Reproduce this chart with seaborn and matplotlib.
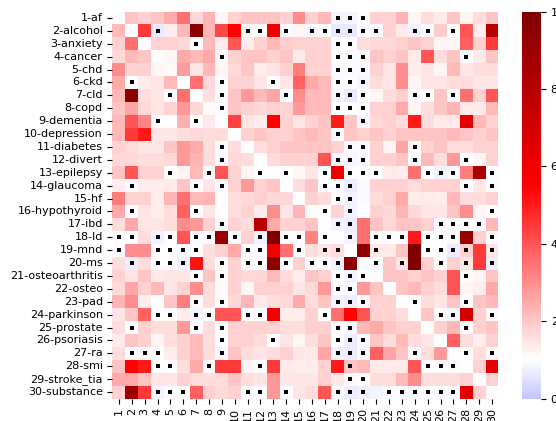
import numpy as np
import pandas as pd
import seaborn as sns
import matplotlib
matplotlib.use('Agg')
import matplotlib.pyplot as plt

conditions = ['1-af', '2-alcohol', '3-anxiety', '4-cancer', '5-chd', '6-ckd', '7-cld', '8-copd',
              '9-dementia', '10-depression', '11-diabetes', '12-divert', '13-epilepsy', '14-glaucoma',
              '15-hf', '16-hypothyroid', '17-ibd', '18-ld', '19-mnd', '20-ms', '21-osteoarthritis',
              '22-osteo', '23-pad', '24-parkinson', '25-prostate', '26-psoriasis', '27-ra', '28-smi',
              '29-stroke_tia', '30-substance']
col_labels = [str(i) for i in range(1, 31)]

# ratio values, one row per condition
ratios = [
    [1.0, 2.0, 1.8, 2.0, 2.5, 3.5, 1.7, 2.3, 1.2, 1.8, 2.0, 2.0, 2.0, 1.8, 3.0, 1.8, 2.2, 0.85, 0.85, 1.0, 1.8, 1.8, 2.3, 1.2, 1.6, 1.4, 2.0, 1.2, 1.6, 2.0],
    [2.2, 1.0, 4.5, 0.6, 1.3, 2.2, 9.5, 2.3, 4.2, 5.5, 1.0, 1.0, 6.0, 0.9, 1.2, 0.9, 1.0, 0.6, 0.6, 1.0, 1.0, 1.8, 1.4, 0.8, 0.9, 1.9, 1.0, 4.0, 1.3, 8.0],
    [1.8, 3.5, 1.0, 1.8, 1.8, 1.7, 1.0, 2.2, 1.3, 4.0, 1.3, 1.8, 2.2, 1.9, 1.8, 1.8, 1.8, 1.0, 1.0, 1.6, 1.7, 1.7, 1.8, 2.0, 1.8, 1.2, 1.2, 3.8, 1.8, 4.5],
    [1.7, 2.2, 2.0, 1.0, 1.2, 2.5, 2.2, 2.5, 0.9, 1.8, 2.0, 2.0, 1.8, 2.0, 1.4, 1.8, 1.8, 1.0, 0.9, 1.1, 2.0, 1.8, 2.0, 1.4, 4.0, 1.6, 2.0, 1.0, 1.4, 2.0],
    [3.0, 1.8, 1.8, 1.2, 1.1, 2.7, 1.5, 2.2, 1.2, 1.7, 2.0, 1.3, 1.5, 1.8, 3.3, 1.8, 1.8, 0.9, 0.9, 0.9, 1.8, 1.5, 3.0, 1.3, 1.5, 1.2, 2.2, 1.5, 1.6, 1.6],
    [2.5, 1.0, 1.3, 1.5, 2.2, 1.0, 3.5, 1.7, 1.0, 1.8, 1.8, 1.5, 1.0, 1.5, 3.8, 2.5, 2.2, 1.1, 0.95, 0.85, 1.6, 1.5, 3.0, 1.2, 1.5, 1.5, 1.6, 1.6, 1.5, 1.5],
    [2.2, 9.5, 1.6, 1.5, 1.0, 3.5, 1.0, 1.6, 1.0, 2.0, 2.8, 2.2, 2.6, 1.0, 3.0, 2.2, 2.2, 0.85, 0.65, 1.0, 1.2, 1.6, 1.8, 1.0, 1.0, 2.0, 1.0, 3.5, 1.8, 4.0],
    [2.0, 2.6, 1.7, 1.5, 1.8, 2.8, 1.7, 1.1, 0.9, 2.0, 1.8, 1.7, 1.8, 1.8, 2.8, 2.2, 2.2, 1.0, 1.0, 0.9, 1.8, 1.8, 2.5, 1.2, 1.6, 2.0, 2.3, 1.4, 1.4, 2.2],
    [2.2, 4.0, 3.2, 1.0, 1.05, 2.4, 1.0, 1.4, 1.0, 4.3, 1.5, 1.3, 5.5, 1.8, 1.5, 1.8, 2.0, 5.0, 2.0, 0.85, 1.7, 1.8, 1.6, 5.0, 1.6, 1.4, 1.4, 6.5, 2.2, 1.8],
    [2.2, 4.5, 5.0, 1.5, 1.5, 1.6, 1.7, 1.6, 1.6, 1.0, 1.8, 2.0, 1.8, 1.8, 2.0, 2.2, 2.0, 0.9, 2.0, 1.8, 2.0, 1.8, 2.0, 2.0, 2.0, 2.0, 2.2, 2.0, 1.8, 2.0],
    [1.8, 1.6, 1.5, 1.5, 2.0, 2.8, 2.5, 1.6, 1.0, 1.6, 1.0, 1.6, 1.8, 2.0, 2.0, 2.0, 2.0, 1.8, 0.9, 0.9, 1.8, 1.2, 2.6, 1.0, 1.8, 2.0, 1.6, 1.6, 1.8, 1.8],
    [1.7, 1.7, 1.6, 1.6, 1.7, 2.8, 2.3, 1.6, 0.9, 1.7, 1.6, 1.0, 1.6, 1.8, 1.8, 1.8, 4.0, 0.9, 0.85, 0.9, 1.8, 1.8, 2.0, 1.0, 2.2, 1.6, 2.8, 1.0, 1.2, 1.8],
    [2.0, 4.0, 1.8, 1.8, 1.0, 1.2, 2.2, 1.0, 4.0, 1.8, 1.2, 1.0, 1.0, 1.0, 1.2, 1.5, 1.0, 6.0, 1.0, 1.0, 1.0, 1.4, 1.3, 3.5, 1.0, 0.8, 0.9, 3.3, 8.5, 1.0],
    [1.3, 0.9, 1.3, 1.3, 1.4, 2.0, 1.0, 1.5, 0.9, 1.8, 2.8, 1.8, 2.0, 1.0, 1.6, 2.0, 1.0, 1.0, 0.7, 0.9, 1.8, 1.8, 1.8, 1.6, 1.8, 1.8, 1.8, 1.0, 1.4, 1.0],
    [3.3, 1.8, 1.8, 1.3, 2.3, 3.5, 2.2, 2.3, 1.0, 1.6, 1.7, 1.8, 1.7, 1.7, 1.0, 1.8, 1.6, 1.0, 0.8, 0.9, 1.6, 1.8, 2.5, 1.3, 1.4, 1.3, 2.2, 1.6, 1.6, 1.8],
    [2.5, 1.0, 1.5, 1.3, 1.6, 3.8, 1.0, 1.5, 1.05, 1.6, 1.8, 1.3, 3.0, 1.5, 2.3, 1.0, 1.0, 1.8, 0.8, 0.95, 1.8, 1.7, 2.3, 1.7, 1.5, 1.5, 2.0, 3.0, 1.2, 1.0],
    [1.6, 2.5, 1.5, 1.5, 1.6, 3.0, 2.8, 1.8, 0.9, 1.8, 1.6, 8.0, 2.5, 1.8, 1.8, 2.0, 1.0, 0.8, 0.7, 3.5, 2.0, 1.7, 2.0, 2.0, 1.8, 1.0, 1.0, 1.0, 1.0, 2.2],
    [1.0, 1.0, 1.6, 0.8, 1.0, 4.0, 0.9, 1.0, 9.0, 1.0, 1.8, 0.8, 10.0, 1.0, 1.0, 3.2, 1.0, 1.0, 0.75, 3.5, 1.0, 1.0, 1.0, 5.0, 1.0, 1.0, 1.1, 9.0, 1.8, 1.1],
    [1.0, 3.0, 3.0, 1.0, 1.0, 1.0, 1.0, 1.6, 1.8, 2.5, 1.0, 0.9, 6.0, 3.5, 1.0, 1.6, 1.5, 1.6, 1.0, 9.5, 1.4, 1.4, 2.0, 10.0, 1.0, 1.0, 0.7, 1.8, 4.5, 1.5],
    [1.6, 0.7, 1.6, 1.0, 1.0, 0.75, 5.2, 1.6, 1.0, 1.8, 1.0, 0.95, 9.5, 1.0, 1.8, 1.0, 1.0, 0.75, 9.5, 1.0, 1.0, 2.0, 1.5, 10.0, 1.8, 1.0, 1.8, 1.5, 4.5, 0.7],
    [1.8, 1.5, 2.0, 1.4, 1.5, 1.5, 1.0, 2.0, 0.9, 1.8, 1.7, 1.7, 2.2, 1.6, 1.3, 2.0, 1.8, 1.0, 0.8, 1.0, 1.0, 2.0, 2.0, 1.8, 2.0, 1.8, 4.0, 1.0, 1.2, 2.0],
    [1.7, 2.6, 1.8, 2.2, 1.5, 1.8, 3.0, 1.6, 1.1, 1.8, 1.2, 1.8, 1.8, 1.8, 1.5, 1.7, 2.8, 1.0, 0.9, 2.8, 2.0, 1.0, 2.0, 2.2, 1.8, 1.6, 4.0, 1.2, 1.3, 2.5],
    [2.3, 3.0, 1.3, 1.0, 2.0, 3.3, 1.1, 1.6, 1.0, 1.7, 2.3, 1.4, 1.6, 1.7, 2.5, 1.6, 2.0, 0.8, 0.7, 1.1, 1.8, 1.8, 1.0, 1.0, 1.6, 1.5, 2.0, 1.0, 2.0, 2.2],
    [1.5, 2.0, 3.8, 1.0, 1.0, 1.3, 0.85, 1.0, 4.0, 4.0, 1.0, 1.0, 6.0, 1.3, 1.3, 1.8, 1.0, 3.5, 5.5, 4.0, 1.8, 1.8, 1.6, 1.0, 2.0, 1.1, 0.85, 7.0, 1.8, 1.1],
    [1.6, 1.0, 1.8, 1.6, 1.6, 2.8, 0.9, 1.6, 1.0, 1.8, 1.8, 1.8, 1.8, 1.6, 1.6, 1.8, 1.8, 1.0, 0.9, 2.2, 2.5, 2.0, 1.8, 1.8, 1.0, 1.8, 2.2, 0.95, 1.8, 2.0],
    [1.4, 2.0, 1.8, 1.2, 1.6, 1.8, 2.2, 1.6, 1.0, 1.8, 1.8, 1.6, 1.0, 1.5, 1.2, 1.6, 2.0, 1.05, 0.7, 0.9, 2.0, 1.6, 2.2, 1.6, 1.5, 1.0, 3.8, 1.6, 1.3, 1.8],
    [1.6, 1.0, 1.0, 1.0, 1.3, 1.8, 2.2, 1.6, 0.9, 2.0, 1.6, 1.5, 1.6, 1.8, 1.5, 1.4, 2.6, 0.75, 0.7, 0.9, 3.8, 2.6, 2.0, 1.0, 1.6, 2.8, 1.0, 1.0, 1.6, 1.1],
    [2.0, 5.5, 5.0, 1.0, 1.0, 1.6, 2.5, 1.0, 4.5, 4.5, 1.2, 1.0, 4.5, 1.4, 1.3, 1.3, 1.8, 5.0, 2.0, 2.2, 1.4, 1.4, 1.4, 4.0, 1.0, 1.0, 1.1, 1.0, 1.8, 6.5],
    [2.5, 2.5, 2.0, 1.5, 1.5, 1.8, 1.6, 1.6, 1.6, 2.0, 1.6, 1.5, 2.8, 1.5, 1.5, 1.5, 1.8, 1.5, 1.1, 1.0, 1.6, 1.6, 2.2, 3.0, 1.6, 1.6, 1.6, 1.8, 1.0, 1.8],
    [1.8, 9.0, 4.5, 0.85, 1.0, 1.0, 3.8, 1.8, 1.7, 1.8, 1.0, 1.0, 2.8, 1.0, 1.5, 1.6, 4.0, 0.9, 0.7, 0.8, 0.85, 1.0, 1.0, 0.9, 1.0, 1.0, 1.0, 6.5, 1.8, 1.0],
]

# columns (1-based) of the cells marked with a black square, per row
marked = [
    [18, 19, 20],
    [4, 11, 12, 14, 16, 17, 18, 19, 20, 21, 24, 25, 27],
    [7, 18, 19],
    [9, 18, 19, 20, 28],
    [18, 19, 20],
    [2, 9, 13, 18, 19, 20],
    [5, 9, 14, 18, 19, 20, 24, 25, 27],
    [9, 18, 19, 20],
    [4, 7, 20],
    [18],
    [9, 19, 20, 24],
    [9, 18, 19, 20, 24, 28],
    [5, 8, 12, 14, 17, 19, 20, 21, 25, 26, 27, 30],
    [2, 7, 9, 17, 18, 19, 28, 30],
    [18, 19],
    [2, 7, 17, 19, 30],
    [9, 18, 19, 26, 27, 28, 29],
    [1, 2, 4, 5, 7, 8, 10, 12, 14, 15, 17, 19, 21, 22, 23, 25, 26, 27, 30],
    [1, 4, 5, 6, 7, 11, 12, 15, 17, 18, 21, 25, 26, 27, 28, 30],
    [2, 4, 5, 6, 9, 11, 12, 14, 16, 17, 18, 21, 23, 26, 28, 30],
    [7, 9, 18, 19, 20, 28],
    [18, 19],
    [7, 9, 18, 19, 20, 24, 28],
    [4, 5, 7, 8, 11, 12, 17, 26, 27, 30],
    [2, 7, 9, 18, 19, 28],
    [9, 13, 18, 19, 20],
    [2, 3, 4, 9, 18, 19, 20, 24, 28, 30],
    [4, 5, 8, 12, 19, 25, 26, 27],
    [19, 20],
    [4, 5, 6, 11, 12, 14, 18, 19, 20, 22, 23, 24, 25, 26, 27],
]

df = pd.DataFrame(ratios, index=conditions, columns=col_labels)

fig = plt.figure(figsize=(5.56, 4.21), dpi=100)
ax = fig.add_axes([0.2023, 0.0534, 0.6942, 0.9192])
cax = fig.add_axes([0.9388, 0.0534, 0.0342, 0.9192])

sns.heatmap(df, ax=ax, cbar_ax=cax, cmap='seismic', center=1, vmin=0, vmax=10)

# black squares on the marked cells
xs, ys = [], []
for r, cols in enumerate(marked):
    for c in cols:
        xs.append(c - 0.5)
        ys.append(r + 0.5)
ax.scatter(xs, ys, marker='s', s=9, color='black', linewidths=0)

ax.set_xticks(np.arange(30) + 0.5)
ax.set_xticklabels(col_labels, rotation=90, fontsize=8)
ax.set_yticks(np.arange(30) + 0.5)
ax.set_yticklabels(conditions, rotation=0, fontsize=8)
ax.set_xlabel('')
ax.set_ylabel('')
cax.tick_params(labelsize=8)

fig.savefig('out.png', dpi=100)
